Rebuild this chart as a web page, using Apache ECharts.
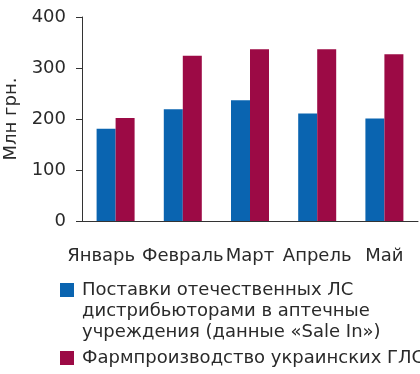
<!DOCTYPE html>
<html><head><meta charset="utf-8">
<script src="https://cdn.jsdelivr.net/npm/echarts@6/dist/echarts.min.js"></script>
<style>html,body{margin:0;padding:0;background:#fff}#c{width:420px;height:374px}</style>
</head><body><div id="c"></div>
<script>
var categories = ['Январь','Февраль','Март','Апрель','Май'];
var supplies = [181, 219, 237, 211, 201];
var production = [202, 324, 337, 337, 327];
var yTicks = [0, 100, 200, 300, 400];
var seriesNames = ['Поставки отечественных ЛС дистрибьюторами в аптечные учреждения (данные «Sale In»)', 'Фармпроизводство украинских ГЛС'];
var legendLine1 = 'Поставки отечественных ЛС';
var legendRest = 'дистрибьюторами в аптечные\nучреждения (данные «Sale In»)';

var font = 'DejaVu Sans';
var txt = '#2a2a2a';
var chart = echarts.init(document.getElementById('c'));
chart.setOption({
  animation: false,
  textStyle: {fontFamily: font},
  grid: {left: 82, right: 2, top: 17, bottom: 153, containLabel: false, outerBoundsMode: 'none'},
  xAxis: {
    type: 'category',
    data: categories.map(function (c, i) {
      return i === 0 ? {value: c, textStyle: {padding: [0, 29, 0, 0]}} : c;
    }),
    axisLine: {lineStyle: {color: '#333', width: 1}},
    axisTick: {length: 8, lineStyle: {color: '#333'}},
    axisLabel: {fontSize: 18, color: txt, margin: 26, fontFamily: font, interval: 0, hideOverlap: false}
  },
  yAxis: {
    type: 'value', min: yTicks[0], max: yTicks[yTicks.length - 1], interval: 100,
    name: 'Млн грн.', nameLocation: 'middle', nameGap: 60,
    nameTextStyle: {fontSize: 18, color: txt, fontFamily: font},
    axisLine: {show: true, lineStyle: {color: '#333', width: 1}},
    axisTick: {show: true, length: 6, lineStyle: {color: '#333'}},
    axisLabel: {fontSize: 18, color: txt, margin: 16, fontFamily: font},
    splitLine: {show: false}
  },
  legend: [{
    data: [seriesNames[0]], orient: 'vertical', left: 60, top: 279, padding: 0,
    itemWidth: 14, itemHeight: 14, icon: 'rect',
    formatter: function () { return legendLine1; },
    textStyle: {fontSize: 18, color: txt, fontFamily: font, lineHeight: 22, padding: [0, 0, 0, 3]}
  }, {
    data: [seriesNames[1]], orient: 'vertical', left: 60, top: 347, padding: 0,
    itemWidth: 14, itemHeight: 14, icon: 'rect',
    textStyle: {fontSize: 18, color: txt, fontFamily: font, lineHeight: 22, padding: [0, 0, 0, 3]}
  }],
  graphic: [{
    type: 'text', left: 82, top: 301,
    style: {text: legendRest, font: '18px "DejaVu Sans"', fill: txt, lineHeight: 21}
  }],
  series: [{
    name: seriesNames[0], type: 'bar', data: supplies, barWidth: 19, barGap: '0%',
    itemStyle: {color: '#0a64b0'}
  }, {
    name: seriesNames[1], type: 'bar', data: production, barWidth: 19,
    itemStyle: {color: '#9c0a45'}
  }]
});
</script></body></html>
